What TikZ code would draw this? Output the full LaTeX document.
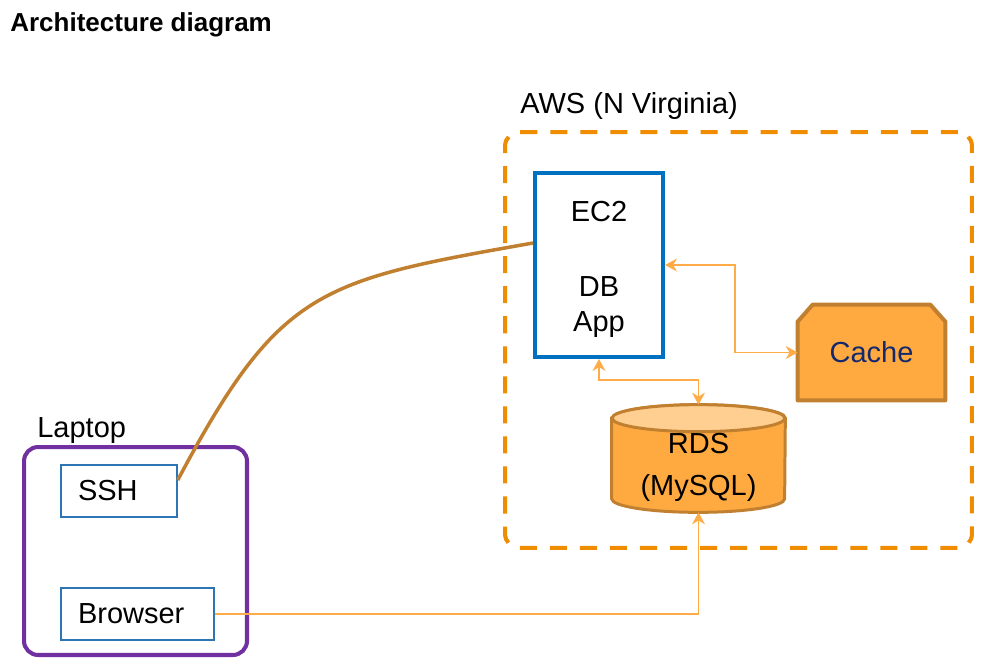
\documentclass[tikz,border=0pt]{standalone}
\usepackage{fontspec}
\setmainfont{Liberation Sans}
\usetikzlibrary{arrows.meta,backgrounds}

\definecolor{awsorange}{RGB}{240,140,0}
\definecolor{dbfill}{RGB}{255,170,64}
\definecolor{dbtopfill}{RGB}{255,206,145}
\definecolor{dbedge}{RGB}{192,128,48}
\definecolor{ecblue}{RGB}{0,112,192}
\definecolor{sshblue}{RGB}{46,117,182}
\definecolor{laptoppurple}{RGB}{112,48,160}
\definecolor{linkorange}{RGB}{255,172,72}
\definecolor{cachetext}{RGB}{20,40,110}

\begin{document}
\begin{tikzpicture}[x=0.02cm,y=-0.02cm,
    txt/.style={font=\fontsize{16.5}{20}\selectfont},
    lbl/.style={txt,inner sep=0,anchor=base west},
    group/.style={draw,line width=2.3pt,rounded corners=8pt},
    appbox/.style={txt,draw=sshblue,line width=0.9pt,align=left,inner xsep=0.34cm,minimum height=1.04cm},
    link/.style={draw=linkorange,line width=0.8pt,>={Stealth[length=2.4mm,width=2.6mm]}}]
  \useasboundingbox (0,0) rectangle (987,670);

  \node[inner sep=0,anchor=base west,font=\fontsize{14.8}{18}\bfseries] (title) at (10,31) {Architecture diagram};

  % AWS region
  \node[group,draw=awsorange,dash pattern=on 9.7pt off 7.4pt,minimum width=9.34cm,minimum height=8.32cm] (aws) at (738.5,340) {};
  \node[lbl] (awslabel) at (520,113) {AWS (N Virginia)};

  \node[draw=ecblue,fill=white,line width=2.3pt,minimum width=2.56cm,minimum height=3.68cm,
    label={[txt,align=center,yshift=-0.09cm]center:EC2\\[23pt]DB\\App}] (ec2) at (599,265) {};

  \node[txt,text=cachetext,minimum width=2.94cm,minimum height=1.9cm] (cache) at (871.5,352.5) {Cache};
  \node[minimum width=3.46cm,minimum height=2.14cm] (rds) at (698.5,458.5) {};
  \node[txt,align=center] (rdstext) at (698.5,467) {RDS\\[4pt](MySQL)};
  \begin{scope}[on background layer]
    \draw[dbedge,fill=dbfill,line width=2.3pt,line join=round] (cache.south west) -- ([yshift=-0.34cm]cache.north west) -- ([xshift=0.3cm]cache.north west)
      -- ([xshift=-0.3cm]cache.north east) -- ([yshift=-0.34cm]cache.north east) -- (cache.south east) -- cycle;
    \draw[dbedge,fill=dbfill,line width=1.7pt] ([yshift=-0.27cm]rds.north west) -- ([yshift=0.27cm]rds.south west)
      arc[start angle=180,end angle=360,x radius=1.73cm,y radius=0.27cm] -- ([yshift=-0.27cm]rds.north east)
      arc[start angle=0,end angle=180,x radius=1.73cm,y radius=0.27cm] -- cycle;
    \draw[dbedge,fill=dbtopfill,line width=1.7pt] ([yshift=-0.27cm]rds.north) ellipse[x radius=1.73cm,y radius=0.27cm];
  \end{scope}

  % laptop
  \node[group,draw=laptoppurple,minimum width=4.46cm,minimum height=4.16cm] (laptop) at (135.5,551) {};
  \node[lbl] (laptoplabel) at (37,437) {Laptop};
  \node[appbox,text width=1.64cm] (ssh) at (119,491) {SSH};
  \node[appbox,text width=2.38cm] (browser) at (137.5,614) {Browser};

  \draw[dbedge,line width=2pt] ([yshift=0.22cm]ssh.east) to[out=62,in=190,looseness=1.3] ([yshift=0.44cm]ec2.west);
  \draw[link,<->] (ec2.east) -- ++(70,0) |- (cache.west);
  \draw[link,<->] (ec2.south) -- ++(0,21) -| (rds.north);
  \draw[link,->] (browser.east) -| (rds.south);
\end{tikzpicture}
\end{document}
